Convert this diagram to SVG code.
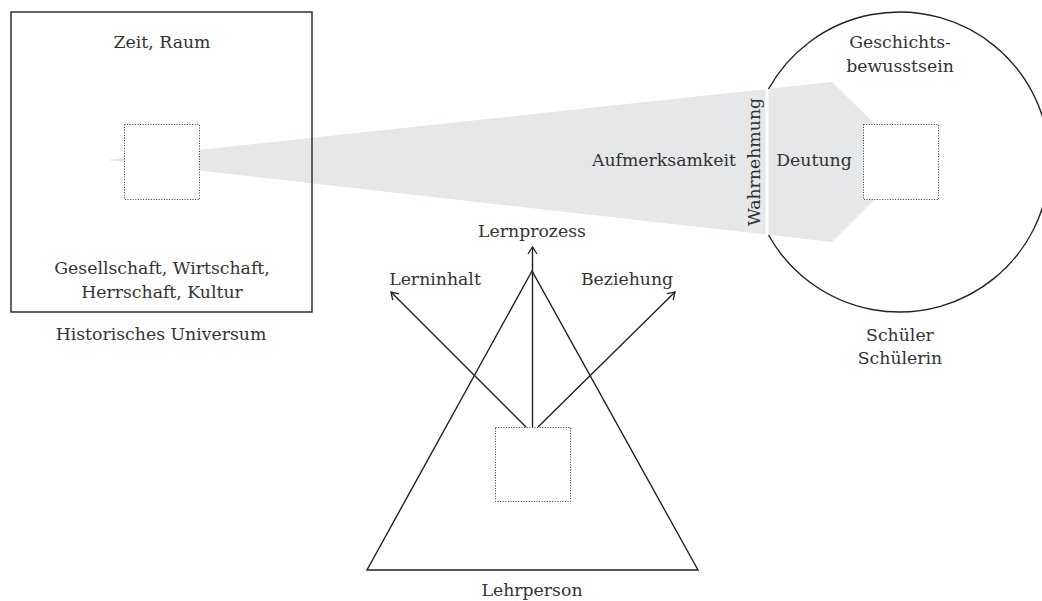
<svg xmlns="http://www.w3.org/2000/svg" width="1042" height="601" viewBox="0 0 1042 601">
<defs>
<style>
text{font-family:"DejaVu Serif","Liberation Serif",serif;font-size:17.3px;fill:#333;text-anchor:middle}
.ln{stroke:#222;stroke-width:1.4;fill:none}
.dot{stroke:#333;stroke-width:1;fill:#fff;stroke-dasharray:1 1.6}
</style>
<marker id="ah" markerUnits="userSpaceOnUse" markerWidth="14" markerHeight="14" refX="0" refY="0" viewBox="-10 -7 14 14" orient="auto" overflow="visible">
<path d="M-7,-4.5 L0,0 L-7,4.5" fill="none" stroke="#222" stroke-width="1.3"/>
</marker>
</defs>
<rect width="1042" height="601" fill="#fff"/>
<g id="beam">
<polygon points="110,159.5 832,82 875,124 875,199 832,242 110,160.5" fill="#e6e7e8"/>
<line x1="767" y1="80" x2="767" y2="245" stroke="#fff" stroke-width="3"/>
</g>
<g id="universum">
<rect class="ln" x="11" y="12" width="301" height="300"/>
<rect class="dot" x="124.5" y="124.5" width="75" height="75"/>
<text x="162" y="48">Zeit, Raum</text>
<text x="162" y="274">Gesellschaft, Wirtschaft,</text>
<text x="162" y="298">Herrschaft, Kultur</text>
<text x="161" y="340">Historisches Universum</text>
</g>
<g id="schueler">
<path class="ln" d="M768.5,89 A150,150 0 1 1 768.5,235"/>
<rect class="dot" x="863.5" y="124.5" width="75" height="75"/>
<text x="900" y="48">Geschichts-</text>
<text x="900" y="72">bewusstsein</text>
<text x="900" y="341">Schüler</text>
<text x="900" y="364">Schülerin</text>
</g>
<g id="labels">
<text x="664" y="166">Aufmerksamkeit</text>
<text x="814" y="166">Deutung</text>
<text transform="translate(760,162) rotate(-90)" x="0" y="0">Wahrnehmung</text>
</g>
<g id="lehrperson">
<polygon class="ln" points="532,271 367,570 698,570"/>
<rect class="dot" x="495.5" y="427.5" width="75" height="74"/>
<text x="532" y="596">Lehrperson</text>
</g>
<g id="connectors">
<line class="ln" x1="532.5" y1="427" x2="532.5" y2="247" marker-end="url(#ah)"/>
<line class="ln" x1="526" y1="427" x2="391" y2="292" marker-end="url(#ah)"/>
<line class="ln" x1="538" y1="427" x2="675" y2="292" marker-end="url(#ah)"/>
</g>
<g id="arrow-labels">
<text x="532" y="237">Lernprozess</text>
<text x="435" y="285">Lerninhalt</text>
<text x="627" y="285">Beziehung</text>
</g>
</svg>
